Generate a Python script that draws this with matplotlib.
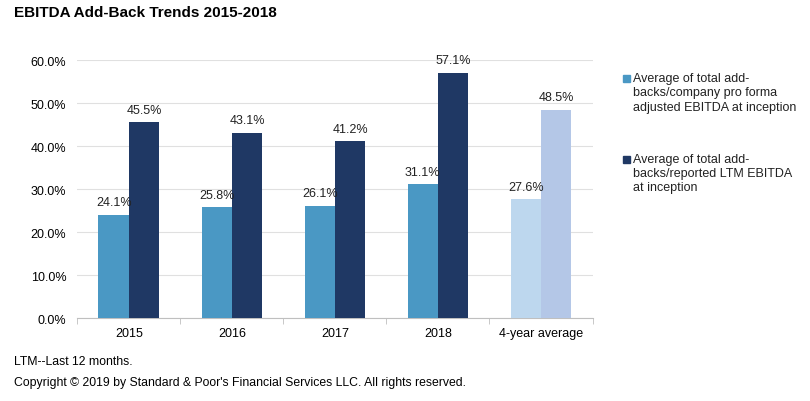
import matplotlib
matplotlib.use("Agg")
import matplotlib.pyplot as plt
from matplotlib.patches import Rectangle
import numpy as np

plt.rcParams['font.family'] = ['Liberation Sans', 'DejaVu Sans']

categories = ["2015", "2016", "2017", "2018", "4-year average"]
pro_forma = [24.1, 25.8, 26.1, 31.1, 27.6]
reported = [45.5, 43.1, 41.2, 57.1, 48.5]
series_names = ["Average of total add-\nbacks/company pro forma\nadjusted EBITDA at inception",
                "Average of total add-\nbacks/reported LTM EBITDA\nat inception"]

c1 = ["#4a98c4"] * 4 + ["#bdd7ee"]
c2 = ["#1f3864"] * 4 + ["#b4c7e7"]

W, H = 810, 402
fig = plt.figure(figsize=(8.1, 4.02), dpi=100)
ax = fig.add_axes([0.0955, 0.206, 0.636, 0.642])

x = np.arange(len(categories))
w = 0.295
ax.bar(x - w / 2, pro_forma, w, color=c1, zorder=3)
ax.bar(x + w / 2, reported, w, color=c2, zorder=3)

for xi, v in zip(x - w / 2, pro_forma):
    ax.text(xi, v + 1.5, f"{v:.1f}%", ha="center", va="bottom", fontsize=9, color="#222222", zorder=4)
for xi, v in zip(x + w / 2, reported):
    ax.text(xi, v + 1.5, f"{v:.1f}%", ha="center", va="bottom", fontsize=9, color="#222222", zorder=4)

ax.set_ylim(0, 60)
ax.set_xlim(-0.5, len(categories) - 0.5)
ax.set_yticks(np.arange(0, 61, 10))
ax.set_yticklabels([f"{t:.1f}%" for t in np.arange(0, 61, 10)], fontsize=9)
ax.yaxis.grid(True, color="#e0e0e0", linewidth=0.8, zorder=0)
ax.tick_params(axis="y", length=0, pad=8)

ax.set_xticks(x)
ax.set_xticklabels(categories, fontsize=9)
ax.set_xticks(np.arange(-0.5, len(categories), 1), minor=True)
ax.tick_params(axis="x", which="major", length=0, pad=6)
ax.tick_params(axis="x", which="minor", length=4, color="#bfbfbf")

for s in ["top", "right", "left"]:
    ax.spines[s].set_visible(False)
ax.spines["bottom"].set_color("#bfbfbf")

# legend (drawn manually so the marker aligns with the first line)
leg_colors = ["#4a98c4", "#1f3864"]
leg_tops = [73, 154]
for name, col, top in zip(series_names, leg_colors, leg_tops):
    fig.patches.append(Rectangle((623 / W, 1 - (top + 10) / H), 7 / W, 7 / H,
                                 transform=fig.transFigure, color=col, figure=fig))
    fig.text(633 / W, 1 - top / H, name, fontsize=9, va="top", ha="left",
             color="#222222", linespacing=1.25)

fig.text(0.017, 0.967, "EBITDA Add-Back Trends 2015-2018", fontsize=11, fontweight="bold", va="center")
fig.text(0.017, 0.099, "LTM--Last 12 months.", fontsize=8.8, va="center")
fig.text(0.017, 0.047, "Copyright \u00a9 2019 by Standard & Poor's Financial Services LLC. All rights reserved.",
         fontsize=8.8, va="center")

fig.savefig("out.png", dpi=100)
